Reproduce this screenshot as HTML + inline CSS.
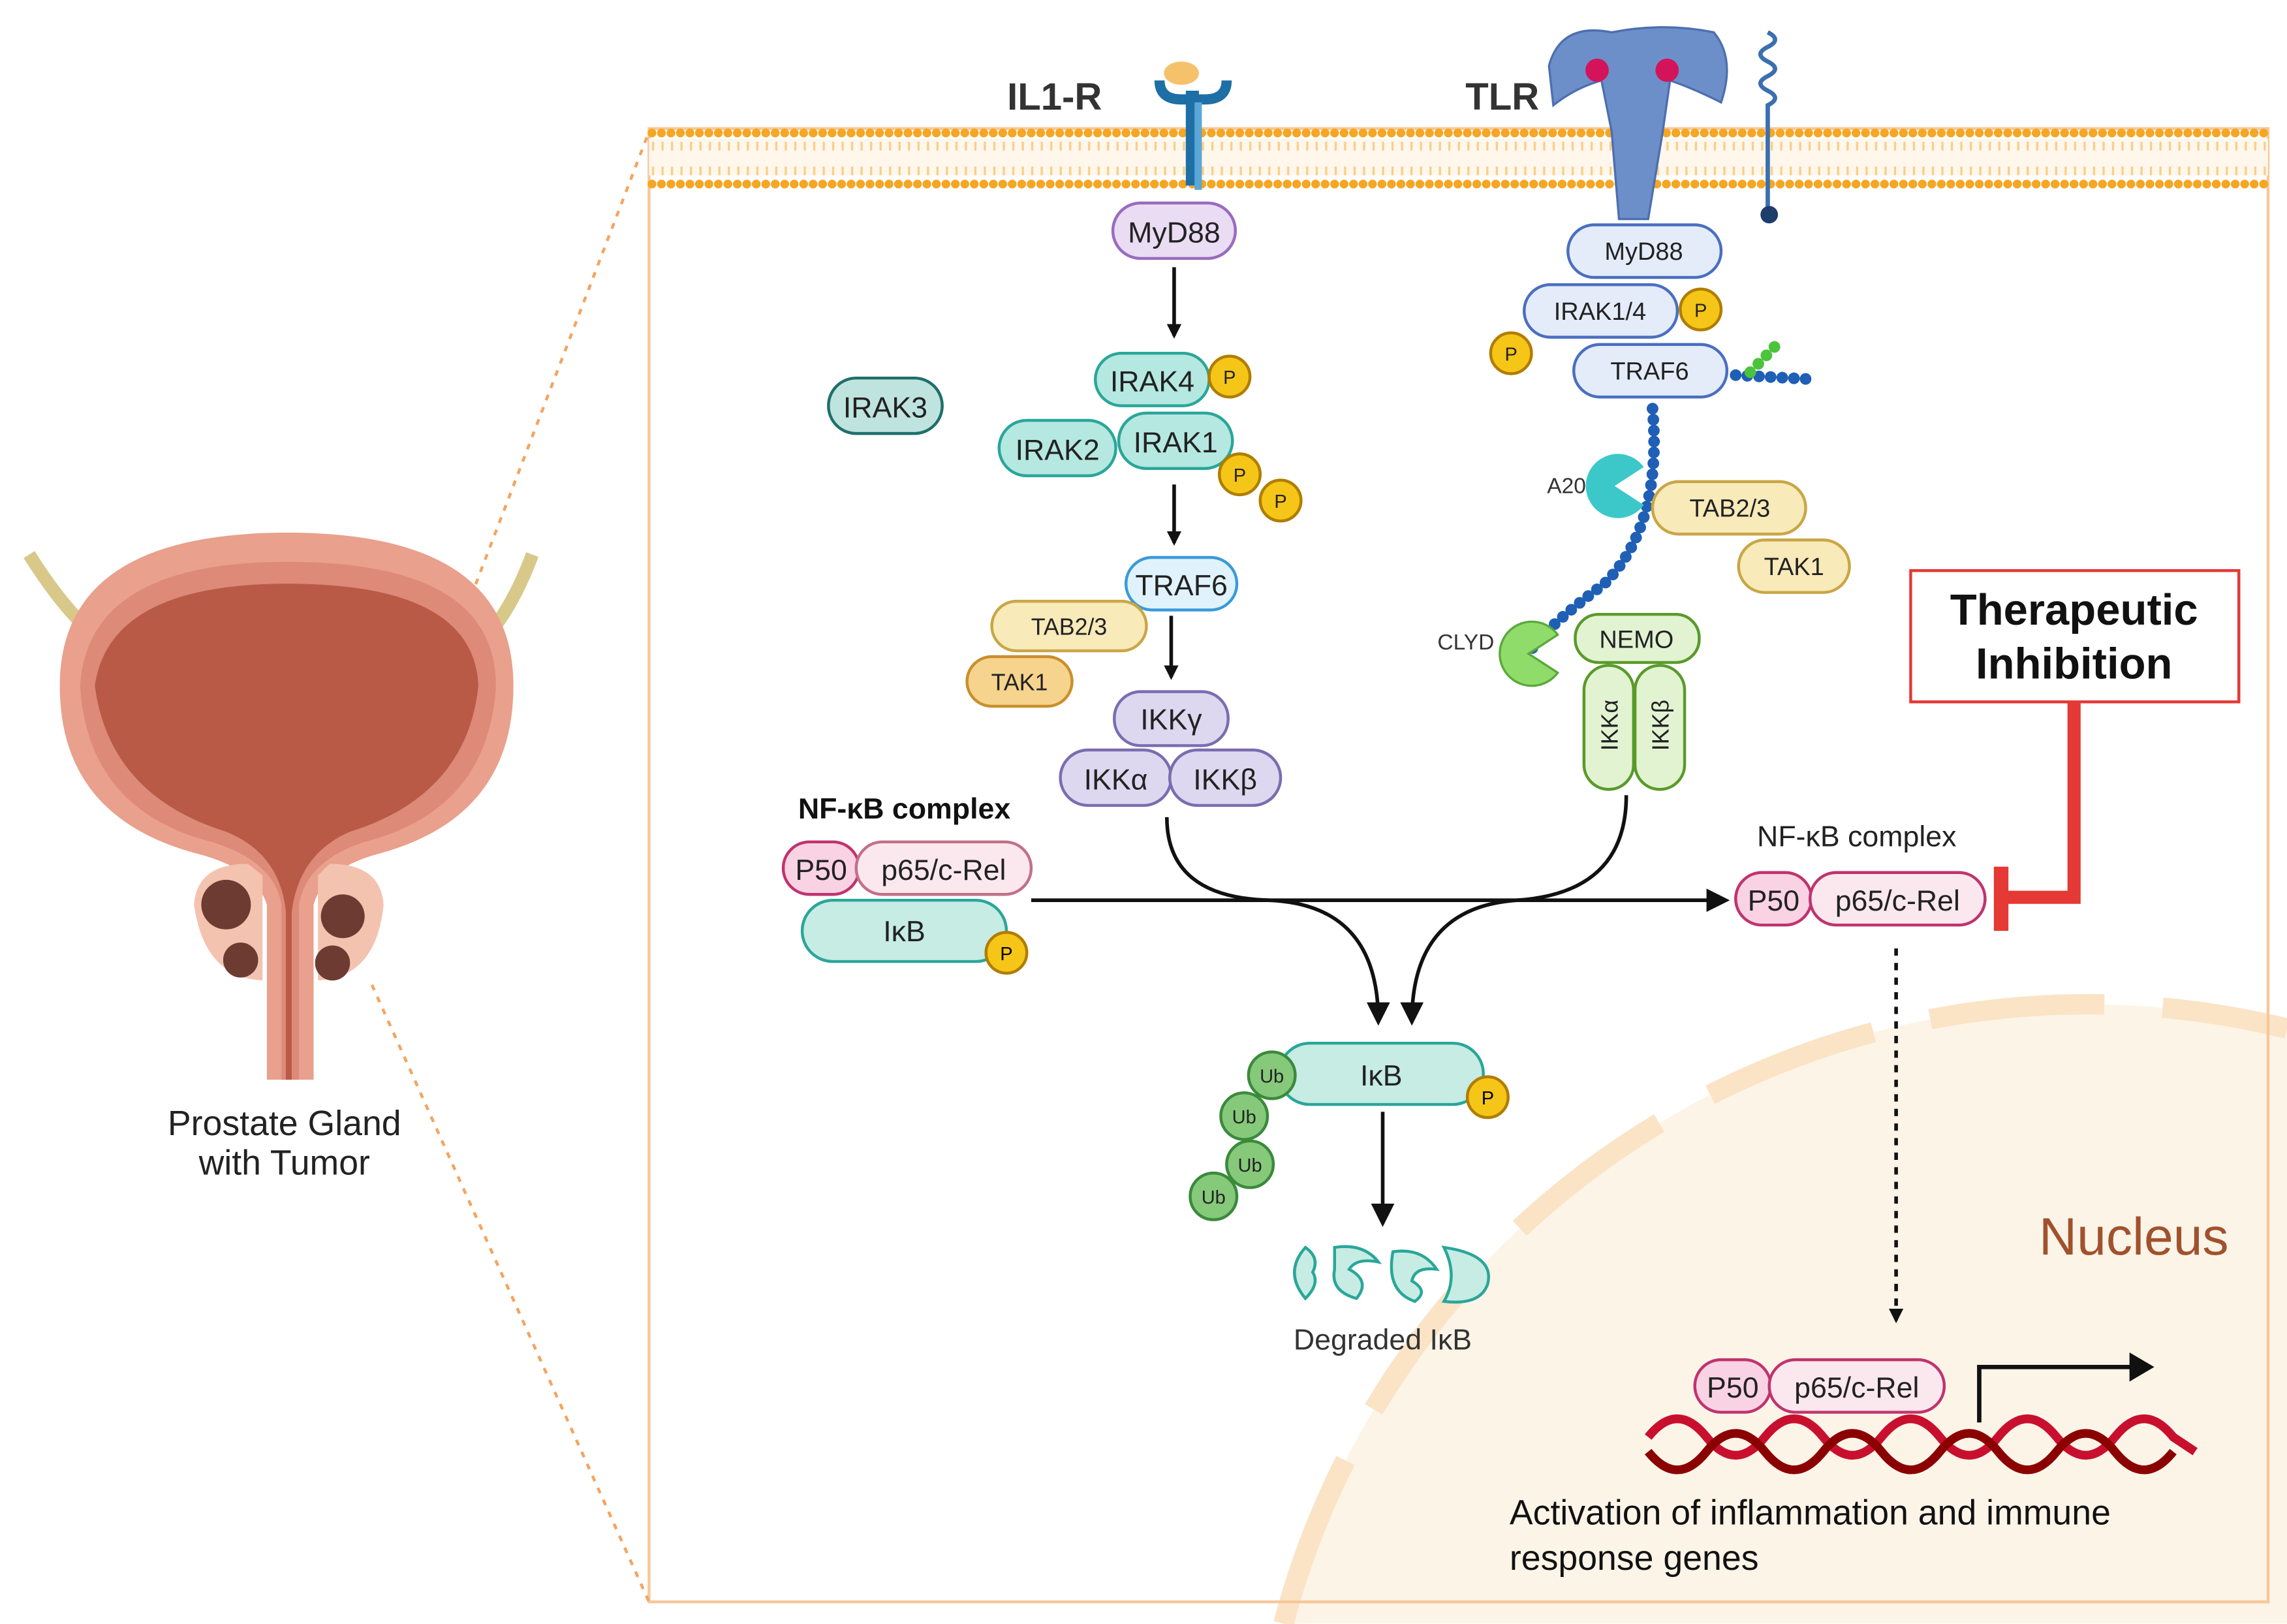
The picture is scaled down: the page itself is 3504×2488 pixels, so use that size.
<!DOCTYPE html>
<html><head><meta charset="utf-8"><style>
html,body{margin:0;padding:0;background:#fff;width:3504px;height:2488px;overflow:hidden}
svg{display:block;overflow:hidden}
text{font-family:"Liberation Sans",sans-serif}
</style></head><body>
<svg width="3504" height="2488" viewBox="0 0 1568 1113" xmlns="http://www.w3.org/2000/svg">
<defs>
<marker id="ah" markerWidth="10" markerHeight="10" refX="8" refY="5" orient="auto" markerUnits="userSpaceOnUse"><path d="M0,0 L10,5 L0,10 Z" fill="#111"/></marker>
<marker id="ah2" markerWidth="16" markerHeight="16" refX="13" refY="8" orient="auto" markerUnits="userSpaceOnUse"><path d="M0,0 L16,8 L0,16 Z" fill="#111"/></marker>
</defs>
<rect width="1568" height="1113" fill="#fff"/>

<!-- nucleus -->
<path d="M880,1113 A570,570 0 0 1 1568,705 L1568,1113 Z" fill="#fdf4e8"/>
<path d="M880,1113 A570,570 0 0 1 1568,705" fill="none" stroke="#fbe3c6" stroke-width="14" stroke-dasharray="120 40"/>

<!-- main box -->
<rect x="445" y="88" width="1110" height="1010" fill="none" stroke="#f6c89a" stroke-width="2"/>
<line x1="265" y1="560" x2="445" y2="90" stroke="#f4a460" stroke-width="2" stroke-dasharray="4 5"/>
<line x1="255" y1="675" x2="445" y2="1098" stroke="#f4a460" stroke-width="2" stroke-dasharray="4 5"/>
<!-- membrane -->
<rect x="445" y="95" width="1110" height="25" fill="#fff7ec"/>
<line x1="447" y1="91" x2="1555" y2="91" stroke="#f5a623" stroke-width="6" stroke-linecap="round" stroke-dasharray="0 6.5"/>
<line x1="447" y1="126" x2="1555" y2="126" stroke="#f5a623" stroke-width="6" stroke-linecap="round" stroke-dasharray="0 6.5"/>
<line x1="447" y1="100" x2="1555" y2="100" stroke="#f8cf8a" stroke-width="6" stroke-dasharray="1.5 5"/>
<line x1="447" y1="117" x2="1555" y2="117" stroke="#f8cf8a" stroke-width="6" stroke-dasharray="1.5 5"/>

<!-- prostate drawing -->
<path d="M20,380 Q45,420 70,440" stroke="#d8c98a" stroke-width="9" fill="none"/>
<path d="M365,380 Q350,420 330,440" stroke="#d8c98a" stroke-width="9" fill="none"/>
<path d="M41,470 Q41,365 197,365 Q352,365 352,470 Q352,560 260,585 Q222,595 215,620 L215,740 L183,740 L183,620 Q175,595 135,585 Q41,560 41,470 Z" fill="#e9a08c"/>
<path d="M55,470 Q60,385 197,385 Q340,385 340,470 Q335,555 250,577 Q210,590 205,620 L205,740 L193,740 L193,620 Q188,590 145,577 Q60,555 55,470 Z" fill="#dd8a78"/>
<path d="M65,470 Q75,400 197,400 Q325,400 328,470 Q320,545 240,570 Q205,585 200,625 L200,740 L196,740 L196,625 Q192,585 155,570 Q75,545 65,470 Z" fill="#b95a47"/>
<path d="M133,620 Q135,592 170,592 L180,600 L180,672 Q140,670 133,620Z" fill="#f3c3b0"/>
<path d="M263,620 Q261,592 226,592 L218,600 L218,672 Q258,670 263,620Z" fill="#f3c3b0"/>
<circle cx="155" cy="620" r="17" fill="#6d3b32"/><circle cx="165" cy="658" r="12" fill="#6d3b32"/>
<circle cx="235" cy="628" r="15" fill="#6d3b32"/><circle cx="228" cy="660" r="12" fill="#6d3b32"/>
<text x="195" y="778" font-size="24" text-anchor="middle" fill="#222">Prostate  Gland</text>
<text x="195" y="805" font-size="24" text-anchor="middle" fill="#222">with Tumor</text>

<!-- IL1-R -->
<text x="723" y="75" font-size="26" font-weight="bold" text-anchor="middle" fill="#333">IL1-R</text>
<path d="M795,55 Q795,68 810,68 L826,68 Q841,68 841,55" stroke="#1d6fa5" stroke-width="7" fill="none"/>
<rect x="813" y="62" width="9" height="65" fill="#1d6fa5"/>
<rect x="819" y="70" width="5" height="60" fill="#5aa7d8"/>
<ellipse cx="810" cy="50" rx="12" ry="8" fill="#f5c26b"/>
<!-- TLR -->
<text x="1030" y="75" font-size="26" font-weight="bold" text-anchor="middle" fill="#333">TLR</text>
<path d="M1062,45 Q1070,15 1105,22 Q1140,15 1175,22 Q1190,40 1180,70 Q1160,60 1145,55 L1140,90 L1130,150 L1110,150 L1105,90 L1098,55 Q1080,60 1065,72 Z" fill="#6d8fc9" stroke="#4d6fb0" stroke-width="1.5"/>
<circle cx="1095" cy="48" r="8" fill="#d4145a"/><circle cx="1143" cy="48" r="8" fill="#d4145a"/>
<path d="M1212,22 q10,5 0,10 q-10,5 0,10 q10,5 0,10 q-10,5 0,10 q10,5 0,10 L1212,145" stroke="#3b6fb0" stroke-width="3" fill="none"/>
<circle cx="1213" cy="147" r="6" fill="#1d3d6b"/>

<!-- left pathway -->
<g font-size="20" text-anchor="middle" fill="#222">
<rect x="763" y="139" width="84" height="38" rx="19" fill="#e9dcf3" stroke="#9a6bbf" stroke-width="2"/><text x="805" y="166">MyD88</text>
<line x1="805" y1="183" x2="805" y2="230" stroke="#111" stroke-width="2.5" marker-end="url(#ah)"/>
<rect x="568" y="259" width="78" height="38" rx="19" fill="#bfe3de" stroke="#1f6f6a" stroke-width="2"/><text x="607" y="286">IRAK3</text>
<rect x="751" y="242" width="78" height="36" rx="18" fill="#b5e8e0" stroke="#2aa69a" stroke-width="2"/><text x="790" y="268">IRAK4</text>
<rect x="685" y="288" width="80" height="38" rx="19" fill="#b5e8e0" stroke="#2aa69a" stroke-width="2"/><text x="725" y="315">IRAK2</text>
<rect x="767" y="283" width="78" height="38" rx="19" fill="#b5e8e0" stroke="#2aa69a" stroke-width="2"/><text x="806" y="310">IRAK1</text>
<line x1="805" y1="332" x2="805" y2="372" stroke="#111" stroke-width="2.5" marker-end="url(#ah)"/>
<rect x="772" y="382" width="76" height="36" rx="18" fill="#e0f3fc" stroke="#3a9ad9" stroke-width="2"/><text x="810" y="408">TRAF6</text>
<rect x="680" y="412" width="106" height="34" rx="17" fill="#f8eab9" stroke="#c9a646" stroke-width="2"/><text x="733" y="435" font-size="16">TAB2/3</text>
<rect x="663" y="450" width="72" height="34" rx="17" fill="#f6d48e" stroke="#c98f2c" stroke-width="2"/><text x="699" y="473" font-size="16">TAK1</text>
<line x1="803" y1="422" x2="803" y2="464" stroke="#111" stroke-width="2.5" marker-end="url(#ah)"/>
<rect x="764" y="474" width="78" height="37" rx="18" fill="#ddd8ef" stroke="#7a6db0" stroke-width="2"/><text x="803" y="500">IKKγ</text>
<rect x="727" y="514" width="76" height="38" rx="19" fill="#ddd8ef" stroke="#7a6db0" stroke-width="2"/><text x="765" y="541">IKKα</text>
<rect x="802" y="514" width="76" height="38" rx="19" fill="#ddd8ef" stroke="#7a6db0" stroke-width="2"/><text x="840" y="541">IKKβ</text>
</g>
<g font-size="13" text-anchor="middle" fill="#222">
<circle cx="843" cy="258" r="14" fill="#f5c518" stroke="#b07d00" stroke-width="2"/><text x="843" y="263">P</text>
<circle cx="850" cy="325" r="14" fill="#f5c518" stroke="#b07d00" stroke-width="2"/><text x="850" y="330">P</text>
<circle cx="878" cy="343" r="14" fill="#f5c518" stroke="#b07d00" stroke-width="2"/><text x="878" y="348">P</text>
</g>

<!-- NF-kB left -->
<text x="620" y="561" font-size="20" font-weight="bold" text-anchor="middle" fill="#111">NF-κB complex</text>
<g font-size="20" text-anchor="middle" fill="#222">
<rect x="537" y="577" width="52" height="36" rx="18" fill="#f9d3e3" stroke="#c0336e" stroke-width="2"/><text x="563" y="603">P50</text>
<rect x="587" y="577" width="120" height="36" rx="18" fill="#fbe8ee" stroke="#c27088" stroke-width="2"/><text x="647" y="603">p65/c-Rel</text>
<rect x="550" y="617" width="140" height="42" rx="21" fill="#c6ece4" stroke="#2aa69a" stroke-width="2"/><text x="620" y="645">IκB</text>
</g>
<circle cx="690" cy="653" r="14" fill="#f5c518" stroke="#b07d00" stroke-width="2"/><text x="690" y="658" font-size="13" text-anchor="middle">P</text>

<!-- arrows -->
<line x1="707" y1="617" x2="1183" y2="617" stroke="#111" stroke-width="2.5" marker-end="url(#ah2)"/>
<path d="M800,560 Q800,615 870,617 Q945,620 945,700" stroke="#111" stroke-width="2.5" fill="none" marker-end="url(#ah2)"/>
<path d="M1115,545 Q1115,612 1040,617 Q968,622 968,700" stroke="#111" stroke-width="2.5" fill="none" marker-end="url(#ah2)"/>

<!-- right pathway -->
<g font-size="17" text-anchor="middle" fill="#222">
<rect x="1075" y="154" width="105" height="36" rx="18" fill="#e4ecfa" stroke="#4a6fc0" stroke-width="2"/><text x="1127" y="178">MyD88</text>
<rect x="1045" y="195" width="105" height="36" rx="18" fill="#e4ecfa" stroke="#4a6fc0" stroke-width="2"/><text x="1097" y="219">IRAK1/4</text>
<rect x="1079" y="236" width="105" height="36" rx="18" fill="#e4ecfa" stroke="#4a6fc0" stroke-width="2"/><text x="1131" y="260">TRAF6</text>
</g>
<g font-size="13" text-anchor="middle" fill="#222">
<circle cx="1166" cy="212" r="14" fill="#f5c518" stroke="#b07d00" stroke-width="2"/><text x="1166" y="217">P</text>
<circle cx="1036" cy="242" r="14" fill="#f5c518" stroke="#b07d00" stroke-width="2"/><text x="1036" y="247">P</text>
</g>
<path d="M1190,257 L1245,260" stroke="#1f5fb5" stroke-width="8" stroke-linecap="round" stroke-dasharray="0 8" fill="none"/>
<path d="M1200,255 L1222,232" stroke="#4cc33c" stroke-width="8" stroke-linecap="round" stroke-dasharray="0 8" fill="none"/>
<path d="M1133,280 Q1140,360 1100,400 Q1060,430 1050,445" stroke="#1f5fb5" stroke-width="8" stroke-linecap="round" stroke-dasharray="0 7.5" fill="none"/>
<path d="M1107,333 L1127,320 A22,22 0 1 0 1127,346 Z" fill="#3cc8c8"/>
<text x="1074" y="338" font-size="15" text-anchor="middle" fill="#333">A20</text>
<path d="M1048,448 L1068,435 A22,22 0 1 0 1068,461 Z" fill="#8fdc6a" stroke="#5aa83a" stroke-width="1.5"/>
<text x="1005" y="445" font-size="15" text-anchor="middle" fill="#333">CLYD</text>
<g font-size="17" text-anchor="middle" fill="#222">
<rect x="1133" y="330" width="105" height="36" rx="18" fill="#f8eab9" stroke="#c9a646" stroke-width="2"/><text x="1186" y="354">TAB2/3</text>
<rect x="1192" y="370" width="76" height="36" rx="18" fill="#f8eab9" stroke="#c9a646" stroke-width="2"/><text x="1230" y="394">TAK1</text>
<rect x="1080" y="421" width="85" height="33" rx="16" fill="#e2f3d2" stroke="#5a9a2a" stroke-width="2"/><text x="1122" y="444">NEMO</text>
<rect x="1086" y="456" width="34" height="85" rx="17" fill="#e2f3d2" stroke="#5a9a2a" stroke-width="2"/>
<rect x="1121" y="456" width="34" height="85" rx="17" fill="#e2f3d2" stroke="#5a9a2a" stroke-width="2"/>
<text transform="translate(1109,497) rotate(-90)" font-size="16">IKKα</text>
<text transform="translate(1144,497) rotate(-90)" font-size="16">IKKβ</text>
</g>

<!-- right NF-kB -->
<text x="1273" y="580" font-size="20" text-anchor="middle" fill="#222">NF-κB complex</text>
<g font-size="20" text-anchor="middle" fill="#222">
<rect x="1190" y="598" width="52" height="36" rx="18" fill="#f9d3e3" stroke="#c0336e" stroke-width="2"/><text x="1216" y="624">P50</text>
<rect x="1241" y="598" width="120" height="36" rx="18" fill="#fbe8ee" stroke="#c0336e" stroke-width="2"/><text x="1301" y="624">p65/c-Rel</text>
</g>
<!-- therapeutic inhibition -->
<rect x="1310" y="391" width="225" height="90" fill="#fff" stroke="#e53935" stroke-width="2"/>
<text x="1422" y="428" font-size="30" font-weight="bold" text-anchor="middle" fill="#111">Therapeutic</text>
<text x="1422" y="465" font-size="30" font-weight="bold" text-anchor="middle" fill="#111">Inhibition</text>
<path d="M1422,481 L1422,615 L1372,615" stroke="#e53935" stroke-width="9" fill="none"/>
<line x1="1372" y1="594" x2="1372" y2="638" stroke="#e53935" stroke-width="10"/>
<line x1="1300" y1="650" x2="1300" y2="905" stroke="#111" stroke-width="2.5" stroke-dasharray="5 5" marker-end="url(#ah)"/>

<!-- IkB ubiquitinated -->
<rect x="877" y="715" width="140" height="42" rx="21" fill="#c6ece4" stroke="#2aa69a" stroke-width="2"/>
<text x="947" y="744" font-size="20" text-anchor="middle" fill="#222">IκB</text>
<circle cx="1020" cy="752" r="14" fill="#f5c518" stroke="#b07d00" stroke-width="2"/><text x="1020" y="757" font-size="13" text-anchor="middle">P</text>
<g font-size="13" text-anchor="middle" fill="#222">
<circle cx="872" cy="737" r="16" fill="#86c97a" stroke="#3b8a3b" stroke-width="2"/><text x="872" y="742">Ub</text>
<circle cx="853" cy="765" r="16" fill="#86c97a" stroke="#3b8a3b" stroke-width="2"/><text x="853" y="770">Ub</text>
<circle cx="857" cy="798" r="16" fill="#86c97a" stroke="#3b8a3b" stroke-width="2"/><text x="857" y="803">Ub</text>
<circle cx="832" cy="820" r="16" fill="#86c97a" stroke="#3b8a3b" stroke-width="2"/><text x="832" y="825">Ub</text>
</g>
<line x1="948" y1="762" x2="948" y2="838" stroke="#111" stroke-width="2.5" marker-end="url(#ah2)"/>
<g fill="#c6ece4" stroke="#2aa69a" stroke-width="2">
<path d="M895,855 Q880,872 895,890 Q905,880 900,872 Q905,862 895,855Z"/>
<path d="M915,855 Q935,852 945,865 Q930,862 925,870 Q940,878 930,890 Q912,885 915,870Z"/>
<path d="M955,858 Q975,855 985,870 Q970,868 968,878 Q980,885 970,892 Q950,885 955,858Z"/>
<path d="M990,855 Q1025,860 1020,880 Q1015,895 990,892 Q1000,875 990,855Z"/>
</g>
<text x="948" y="925" font-size="20" text-anchor="middle" fill="#333">Degraded IκB</text>

<!-- nucleus content -->
<text x="1463" y="860" font-size="36" text-anchor="middle" fill="#a0522d">Nucleus</text>
<path d="M1130,985 Q1150,960 1170,985 T1210,985 T1250,985 T1290,985 T1330,985 T1370,985 T1410,985 T1450,985 T1490,985 L1505,995" stroke="#c8102e" stroke-width="6" fill="none"/>
<path d="M1130,995 Q1150,1020 1170,995 T1210,995 T1250,995 T1290,995 T1330,995 T1370,995 T1410,995 T1450,995 T1490,995" stroke="#8b0000" stroke-width="6" fill="none"/>
<path d="M1357,975 L1357,937 L1462,937" stroke="#111" stroke-width="3" fill="none"/>
<path d="M1460,927 L1477,937 L1460,947 Z" fill="#111"/>
<g font-size="20" text-anchor="middle" fill="#222">
<rect x="1162" y="932" width="52" height="36" rx="18" fill="#f9d3e3" stroke="#c0336e" stroke-width="2"/><text x="1188" y="958">P50</text>
<rect x="1213" y="932" width="120" height="36" rx="18" fill="#fbe8ee" stroke="#c0336e" stroke-width="2"/><text x="1273" y="958">p65/c-Rel</text>
</g>
<text x="1035" y="1045" font-size="24" fill="#111">Activation of inflammation and immune</text>
<text x="1035" y="1076" font-size="24" fill="#111">response genes</text>
</svg>
</body></html>
